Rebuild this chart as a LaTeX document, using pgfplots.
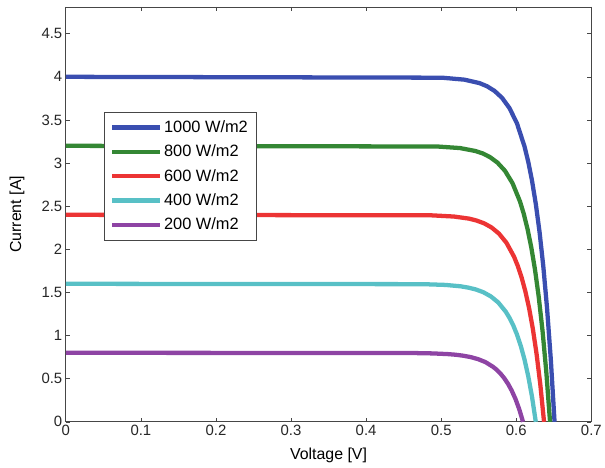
\documentclass[border=0pt]{standalone}
\usepackage{pgfplots}
\pgfplotsset{compat=1.18}
\usepackage{fontspec}
\setmainfont{Liberation Sans}
\definecolor{cblue}{RGB}{58,78,176}
\definecolor{cgreen}{RGB}{52,135,52}
\definecolor{cred}{RGB}{236,52,52}
\definecolor{ccyan}{RGB}{88,192,198}
\definecolor{cpurple}{RGB}{142,68,164}
\definecolor{axgray}{RGB}{70,70,70}
\newcommand{\lf}{\fontsize{16.5}{19}\selectfont}
\begin{document}
\begin{tikzpicture}
\begin{axis}[
  scale only axis, width=527bp, height=416bp,
  xmin=0, xmax=0.7, ymin=0, ymax=4.81,
  xtick={0,0.1,...,0.7}, ytick={0,0.5,...,4.5},
  xticklabels={0,0.1,0.2,0.3,0.4,0.5,0.6,0.7},
  yticklabels={0,0.5,1,1.5,2,2.5,3,3.5,4,4.5},
  tick align=inside, tick pos=both,
  major tick length=4bp,
  axis line style={axgray, line width=0.9pt},
  tick style={axgray, line width=0.6pt},
  /pgf/number format/assume math mode=true,
  font=\fontsize{16}{19}\selectfont,
  tick label style={font=\fontsize{15}{18}\selectfont, text=black!85},
  xlabel={Voltage [V]}, ylabel={Current [A]},
  xlabel style={at={(axis description cs:0.5,-0.0817)}, anchor=center},
  ylabel style={at={(axis description cs:-0.093,0.5)}, anchor=center},
  legend style={at={(0.072,0.748)}, anchor=north west, draw=axgray, line width=0.6pt,
    font=\lf, row sep=7bp, inner xsep=6bp, inner ysep=7bp},
  legend cell align=left,
  legend image code/.code={\draw[#1, line width=4.3pt] (0bp,0bp) -- (48bp,0bp);},
  every axis plot/.append style={line width=4.3pt, line join=round},
  clip=false,
]
\addplot[cblue] coordinates {(0,4.0) (0.501,3.990) (0.531,3.967) (0.551,3.927) (0.561,3.891) (0.571,3.837) (0.581,3.757) (0.591,3.637) (0.601,3.459) (0.611,3.192) (0.616,3.014) (0.621,2.795) (0.626,2.528) (0.631,2.203) (0.636,1.805) (0.641,1.319) (0.646,0.725) (0.651,0)};
\addlegendentry{\lf 1000 W/m2}
\addplot[cgreen] coordinates {(0,3.2) (0.495,3.192) (0.525,3.174) (0.545,3.141) (0.555,3.113) (0.565,3.069) (0.575,3.005) (0.585,2.910) (0.595,2.767) (0.605,2.554) (0.610,2.411) (0.615,2.236) (0.620,2.023) (0.625,1.762) (0.630,1.444) (0.635,1.055) (0.640,0.580) (0.645,0)};
\addlegendentry{\lf 800 W/m2}
\addplot[cred] coordinates {(0,2.4) (0.487,2.394) (0.517,2.380) (0.537,2.356) (0.547,2.334) (0.557,2.302) (0.567,2.254) (0.577,2.182) (0.587,2.075) (0.597,1.915) (0.602,1.808) (0.607,1.677) (0.612,1.517) (0.617,1.322) (0.622,1.083) (0.627,0.791) (0.632,0.435) (0.637,0)};
\addlegendentry{\lf 600 W/m2}
\addplot[ccyan] coordinates {(0,1.6) (0.476,1.596) (0.506,1.587) (0.526,1.571) (0.536,1.556) (0.546,1.535) (0.556,1.503) (0.566,1.455) (0.576,1.384) (0.586,1.277) (0.591,1.205) (0.596,1.118) (0.601,1.011) (0.606,0.881) (0.611,0.722) (0.616,0.527) (0.621,0.290) (0.626,0)};
\addlegendentry{\lf 400 W/m2}
\addplot[cpurple] coordinates {(0,0.8) (0.459,0.798) (0.489,0.793) (0.509,0.785) (0.519,0.778) (0.529,0.767) (0.539,0.751) (0.549,0.727) (0.559,0.692) (0.569,0.638) (0.574,0.603) (0.579,0.559) (0.584,0.506) (0.589,0.441) (0.594,0.361) (0.599,0.264) (0.604,0.145) (0.609,0)};
\addlegendentry{\lf 200 W/m2}
\path (rel axis cs:-0.1252,1.0168) rectangle (rel axis cs:1.0228,-0.1106);
\end{axis}
\end{tikzpicture}
\end{document}
